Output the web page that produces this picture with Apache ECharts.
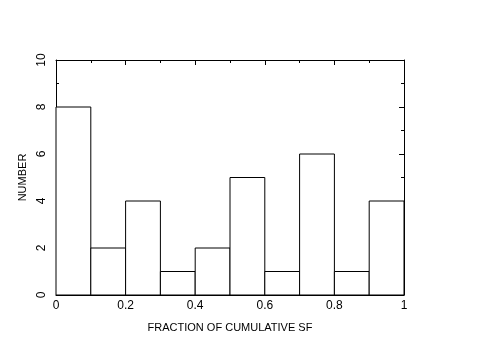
<!DOCTYPE html>
<html>
<head>
<meta charset="utf-8">
<script src="https://cdn.jsdelivr.net/npm/echarts@6/dist/echarts.min.js"></script>
<style>
  html, body { margin: 0; padding: 0; background: #fff; }
  #chart { width: 491px; height: 346px; }
</style>
</head>
<body>
<div id="chart"></div>
<script>
// bin edges and counts of the histogram
const binStart = [0, 0.1, 0.2, 0.3, 0.4, 0.5, 0.6, 0.7, 0.8, 0.9]
const binEnd = [0.1, 0.2, 0.3, 0.4, 0.5, 0.6, 0.7, 0.8, 0.9, 1.0]
const counts = [8, 2, 4, 1, 2, 5, 1, 6, 1, 4]

const xName = 'FRACTION OF CUMULATIVE SF'
const yName = 'NUMBER'

const chart = echarts.init(document.getElementById('chart'))

const font = 'Liberation Sans, Arial, sans-serif'

// histogram rows: [start, end, count]
const histData = binStart.map((s, i) => [s, binEnd[i], counts[i]])

// frame axes: ticks pointing inward, no zero snapping
const axisCommon = {
  axisLine: { show: true, onZero: false, lineStyle: { color: '#000', width: 1 } },
  axisTick: { show: true, inside: true, length: 5, lineStyle: { color: '#000' } },
  minorTick: { show: true, splitNumber: 2, length: 3, lineStyle: { color: '#000' } },
  splitLine: { show: false },
}

const option = {
  animation: false,
  backgroundColor: '#fff',
  grid: { left: 56, right: 87, top: 60, bottom: 51 },
  xAxis: [
    {
      type: 'value',
      min: 0,
      max: 1,
      interval: 0.2,
      position: 'bottom',
      name: xName,
      nameLocation: 'middle',
      nameGap: 27,
      nameTextStyle: { color: '#000', fontSize: 11, fontFamily: font },
      axisLabel: { color: '#000', fontSize: 12, fontFamily: font, margin: 5 },
      ...axisCommon,
    },
    {
      type: 'value',
      min: 0,
      max: 1,
      interval: 0.2,
      position: 'top',
      axisLabel: { show: false },
      ...axisCommon,
    },
  ],
  yAxis: [
    {
      type: 'value',
      min: 0,
      max: 10,
      interval: 2,
      position: 'left',
      name: yName,
      nameLocation: 'middle',
      nameGap: 23,
      nameTextStyle: { color: '#000', fontSize: 11, fontFamily: font },
      axisLabel: { color: '#000', fontSize: 12, fontFamily: font, rotate: 90, margin: 8 },
      ...axisCommon,
    },
    {
      type: 'value',
      min: 0,
      max: 10,
      interval: 2,
      position: 'right',
      axisLabel: { show: false },
      ...axisCommon,
    },
  ],
  series: [
    {
      type: 'custom',
      xAxisIndex: 0,
      yAxisIndex: 0,
      data: histData,
      encode: { x: [0, 1], y: 2 },
      renderItem: function (params, api) {
        const p0 = api.coord([api.value(0), api.value(2)])
        const p1 = api.coord([api.value(1), 0])
        return {
          type: 'rect',
          shape: { x: p0[0], y: p0[1], width: p1[0] - p0[0], height: p1[1] - p0[1] },
          style: { fill: '#fff', stroke: '#000', lineWidth: 1 },
        }
      },
    },
  ],
}

chart.setOption(option)
</script>
</body>
</html>
